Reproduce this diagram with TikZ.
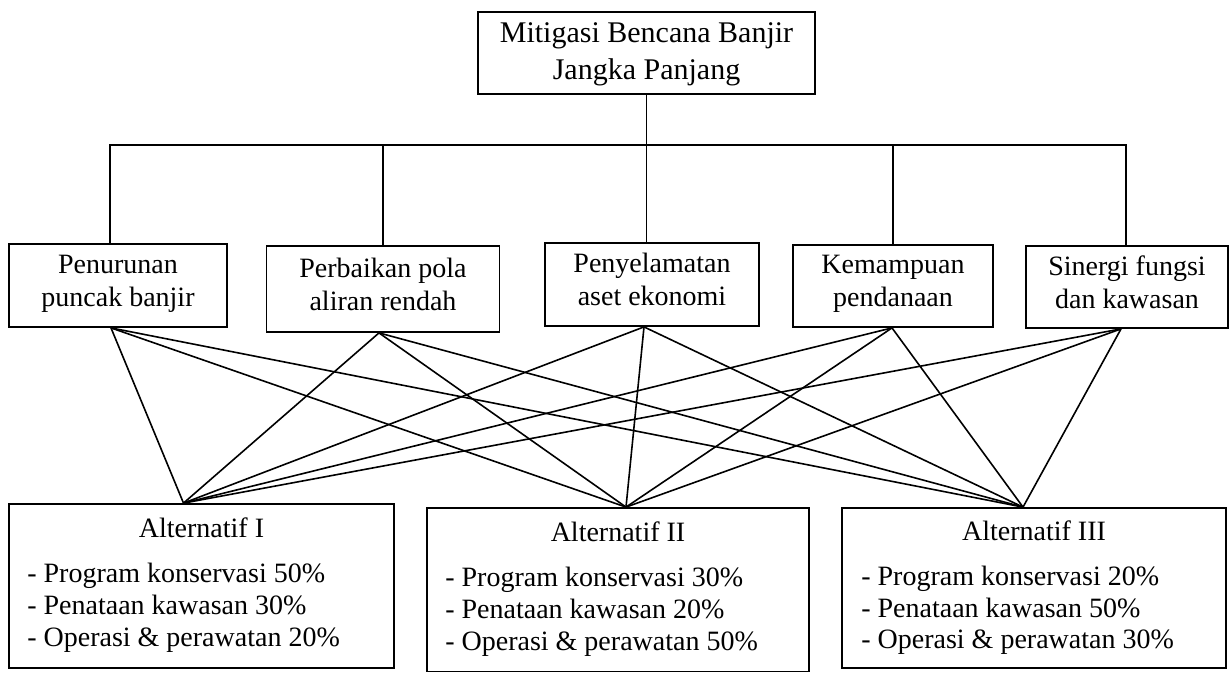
\documentclass[tikz,border=0pt]{standalone}
\usepackage{fontspec}
\setmainfont{Liberation Serif}
\newcommand{\critstrut}{\rule[-10pt]{0pt}{28pt}}
\newcommand{\goalstrut}{\rule[-10pt]{0pt}{36pt}}
\begin{document}
\begin{tikzpicture}[x=1pt,y=-1pt,
  every node/.style={font=\fontsize{28}{33}\selectfont, inner sep=0pt},
  box/.style={draw, line width=1.8pt, align=center},
  goalfont/.style={font=\fontsize{30}{32}\selectfont},
  link/.style={line width=1.6pt},
  item/.style={anchor=base west},
  title/.style={anchor=base}]
\useasboundingbox (0,0) rectangle (1230,672);
\fill[white] (0,0) rectangle (1230,672);

% goal
\node[box, goalfont, minimum width=337pt, minimum height=82pt] (top) at (646.5,53) {\goalstrut Mitigasi Bencana Banjir\\\goalstrut Jangka Panjang};

% criteria
\node[box, minimum width=218pt, minimum height=83pt] (c1) at (118,285.5) {\critstrut Penurunan\\\critstrut puncak banjir};
\node[box, minimum width=233pt, minimum height=86pt] (c2) at (383,289) {\critstrut Perbaikan pola\\\critstrut aliran rendah};
\node[box, minimum width=214pt, minimum height=83pt] (c3) at (652,284.5) {\critstrut Penyelamatan\\\critstrut aset ekonomi};
\node[box, minimum width=200pt, minimum height=82pt] (c4) at (893,286) {\critstrut Kemampuan\\\critstrut pendanaan};
\node[box, minimum width=202pt, minimum height=82pt] (c5) at (1127,287) {\critstrut Sinergi fungsi\\\critstrut dan kawasan};

% alternatives
\node[box, minimum width=385pt, minimum height=164pt] (a1) at (201.5,586) {};
\node[box, minimum width=382pt, minimum height=163.5pt] (a2) at (618,589.75) {};
\node[box, minimum width=384pt, minimum height=160pt] (a3) at (1034,588) {};

\node[title] (a1t) at ([yshift=-34pt]a1.north) {Alternatif I};
\node[item] (a1l1) at ([xshift=19pt,yshift=-79pt]a1.north west) {- Program konservasi 50\%};
\node[item] (a1l2) at ([xshift=19pt,yshift=-111pt]a1.north west) {- Penataan kawasan 30\%};
\node[item] (a1l3) at ([xshift=19pt,yshift=-143pt]a1.north west) {- Operasi \& perawatan 20\%};

\node[title] (a2t) at ([yshift=-34pt]a2.north) {Alternatif II};
\node[item] (a2l1) at ([xshift=19pt,yshift=-79pt]a2.north west) {- Program konservasi 30\%};
\node[item] (a2l2) at ([xshift=19pt,yshift=-111pt]a2.north west) {- Penataan kawasan 20\%};
\node[item] (a2l3) at ([xshift=19pt,yshift=-143pt]a2.north west) {- Operasi \& perawatan 50\%};

\node[title] (a3t) at ([yshift=-33pt]a3.north) {Alternatif III};
\node[item] (a3l1) at ([xshift=20pt,yshift=-78pt]a3.north west) {- Program konservasi 20\%};
\node[item] (a3l2) at ([xshift=20pt,yshift=-110pt]a3.north west) {- Penataan kawasan 50\%};
\node[item] (a3l3) at ([xshift=20pt,yshift=-141pt]a3.north west) {- Operasi \& perawatan 30\%};

% hierarchy bar
\coordinate (bary) at (0,145);
\coordinate (d1) at ([xshift=-8pt]c1.north);
\coordinate (d5) at ([xshift=-1pt]c5.north);
\draw[link] (top.south) -- (top.south |- c3.north);
\draw[link] (d1) |- (d5 |- bary) -- (d5);
\draw[link] (c2.north) -- (c2.north |- bary);
\draw[link] (c4.north) -- (c4.north |- bary);

% connection points
\coordinate (p1) at ([xshift=-7pt]c1.south);
\coordinate (p2) at ([xshift=-4pt]c2.south);
\coordinate (p3) at ([xshift=-8pt]c3.south);
\coordinate (p4) at ([xshift=-1pt]c4.south);
\coordinate (p5) at ([xshift=-6pt]c5.south);
\coordinate (q1) at ([xshift=-18pt]a1.north);
\coordinate (q2) at ([xshift=8pt]a2.north);
\coordinate (q3) at ([xshift=-11pt]a3.north);

\foreach \i in {1,...,5}{
  \foreach \j in {1,2,3}{
    \draw[link] (p\i) -- (q\j);
  }
}
\end{tikzpicture}
\end{document}
